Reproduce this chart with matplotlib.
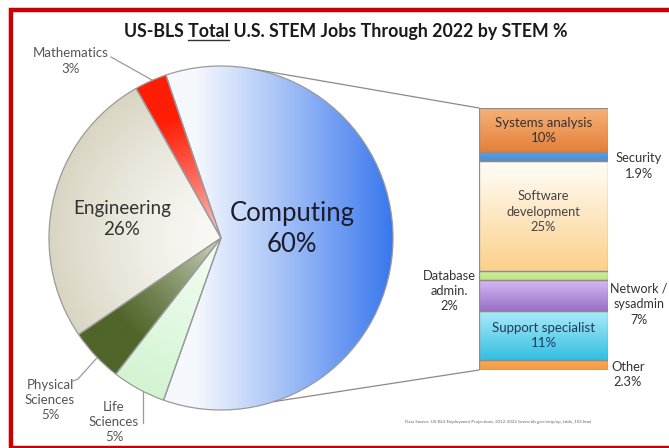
import numpy as np
import matplotlib
matplotlib.use("Agg")
import matplotlib.pyplot as plt
from matplotlib.patches import Rectangle, ConnectionPatch
from matplotlib.colors import to_rgb
from matplotlib.lines import Line2D

# ---------------- data ----------------
pie_labels = ["Computing", "Mathematics", "Engineering", "Physical\nSciences", "Life\nSciences"]
pie_values = [60, 3, 26, 5, 5]

bar_labels = ["Systems analysis", "Security", "Software\ndevelopment", "Database\nadmin.",
              "Network /\nsysadmin", "Support specialist", "Other"]
bar_values = [10, 1.9, 25, 2, 7, 11, 2.3]

title_pre = "US-BLS "
title_ul = "Total"
title_post = " U.S. STEM Jobs Through 2022 by STEM %"
source_text = "Data Source: US-BLS Employment Projections, 2012-2022 (www.bls.gov/emp/ep_table_102.htm)"

# ---------------- style ----------------
plt.rcParams['font.family'] = ['Lato', 'DejaVu Sans']
W, H = 669, 448
fig = plt.figure(figsize=(W / 100, H / 100), dpi=100)
fig.patch.set_facecolor("white")


def fx(x):
    return x / W


def fy(y):
    return 1 - y / H


def pct(v):
    return f"{v:g}%"


# ---------------- pie ----------------
cx, cy, R = 221, 238, 172
pax = fig.add_axes([fx(cx - R), fy(cy + R), 2 * R / W, 2 * R / H])
pax.set_xlim(-1, 1)
pax.set_ylim(-1, 1)
pax.axis("off")
startangle = -109.5
wedges, _ = pax.pie(pie_values, startangle=startangle, radius=1, counterclock=True,
                    wedgeprops=dict(facecolor="none", edgecolor="#9a9a9a", linewidth=0.9))
for w in wedges:
    w.set_zorder(3)

N = 500
xs = np.linspace(-1, 1, N)
X, Y = np.meshgrid(xs, xs)
Rr = np.sqrt(X ** 2 + Y ** 2)


def grad_img(c0, c1, t):
    c0 = np.array(to_rgb(c0))
    c1 = np.array(to_rgb(c1))
    t = np.clip(t, 0, 1)[..., None]
    return c0 + (c1 - c0) * t


pie_grads = [
    grad_img("#f5f8fd", "#3877ee", np.clip((X + 0.15) / 1.15, 0, 1) ** 1.05),
    grad_img("#f7d8d8", "#ff1e05", (Rr / 0.75) ** 0.8),
    grad_img("#faf9f5", "#d9d5c3", Rr ** 1.4),
    grad_img("#dfe3d3", "#50652a", (Rr / 0.75) ** 0.7),
    grad_img("#f5fdf5", "#d2f4d2", Rr ** 1.0),
]
for w, img in zip(wedges, pie_grads):
    im = pax.imshow(img, extent=(-1, 1, -1, 1), origin="lower", zorder=2, interpolation="bilinear")
    im.set_clip_path(w)
pax.set_xlim(-1, 1)
pax.set_ylim(-1, 1)
pax.set_aspect("auto")

# ---------------- stacked bar ----------------
bx0, bx1, by0, by1 = 479, 608, 108, 370
bax = fig.add_axes([fx(bx0), fy(by1), (bx1 - bx0) / W, (by1 - by0) / H])
total = sum(bar_values)
bottoms = np.concatenate([[0], np.cumsum(bar_values)[:-1]])
bar_cols = [("#f5b47c", "#e57f38"), ("#5f9ddb", "#4f8fd0"), ("#fffefb", "#fcd089"),
            ("#cdeea0", "#bfe47e"), ("#d6b8f2", "#9870c8"), ("#aaeaf8", "#33bfe2"),
            ("#f7aa58", "#f39a45")]
bars = bax.bar([0] * len(bar_values), bar_values, bottom=bottoms, width=1,
               color="none", edgecolor="#8c8c8c", linewidth=0.9, zorder=3)
for b, v, bt, (c0, c1) in zip(bars, bar_values, bottoms, bar_cols):
    t = np.linspace(0, 1, 100)[:, None] * np.ones((1, 2))
    img = grad_img(c0, c1, t)
    im = bax.imshow(img, extent=(-0.5, 0.5, bt + v, bt), origin="upper", aspect="auto",
                    zorder=2, interpolation="bilinear")
    im.set_clip_path(b)
bax.set_xlim(-0.5, 0.5)
bax.set_ylim(total, 0)
bax.axis("off")

# connectors
a_top, a_bot = np.deg2rad(79), np.deg2rad(-72)
for a, yb in [(a_top, 1), (a_bot, 0)]:
    con = ConnectionPatch(xyA=(np.cos(a), np.sin(a)), coordsA=pax.transData,
                          xyB=(0, yb), coordsB=bax.transAxes, color="#8a8a8a", lw=0.9)
    fig.add_artist(con)

# ---------------- labels ----------------
grey = "#555555"
dark = "#333333"
# pie labels
fig.text(fx(292), fy(229), f"{pie_labels[0]}\n{pct(pie_values[0])}", ha="center", va="center",
         fontsize=18.5, color="#1c1c2a", linespacing=1.3)
fig.text(fx(71), fy(61), f"{pie_labels[1]}\n{pct(pie_values[1])}", ha="center", va="center",
         fontsize=9.5, color=grey, linespacing=1.35)
fig.text(fx(122), fy(219), f"{pie_labels[2]}\n{pct(pie_values[2])}", ha="center", va="center",
         fontsize=13.5, color=dark, linespacing=1.3)
fig.text(fx(50), fy(400), f"{pie_labels[3]}\n{pct(pie_values[3])}", ha="center", va="center",
         fontsize=9.5, color=grey, linespacing=1.3)
fig.text(fx(114), fy(422), f"{pie_labels[4]}\n{pct(pie_values[4])}", ha="center", va="center",
         fontsize=9.5, color=grey, linespacing=1.3)

# leader lines
def edge_pt(deg):
    a = np.deg2rad(deg)
    return cx + R * np.cos(a), cy - R * np.sin(a)


lc = "#9a9a9a"
ex, ey = edge_pt(113.5)
fig.add_artist(Line2D([fx(111), fx(ex)], [fy(57), fy(ey)], color=lc, lw=0.9))
ex, ey = edge_pt(224)
fig.add_artist(Line2D([fx(73), fx(78), fx(ex)], [fy(381), fy(379), fy(ey)], color=lc, lw=0.9))
fig.add_artist(Line2D([fx(143), fx(143)], [fy(423), fy(392)], color=lc, lw=0.9))

# bar labels inside
mid = bottoms + np.array(bar_values) / 2
bax.text(0, mid[0], f"{bar_labels[0]}\n{pct(bar_values[0])}", ha="center", va="center",
         fontsize=9.5, color=dark, linespacing=1.3, zorder=5)
bax.text(0, mid[2] - 1, f"{bar_labels[2]}\n{pct(bar_values[2])}", ha="center", va="center",
         fontsize=9.3, color="#444444", linespacing=1.35, zorder=5)
bax.text(0, mid[5], f"{bar_labels[5]}\n{pct(bar_values[5])}", ha="center", va="center",
         fontsize=9.5, color="#1f3a5f", linespacing=1.25, zorder=5)
# outside labels
fig.text(fx(639), fy(166), f"{bar_labels[1]}\n{pct(bar_values[1])}", ha="center", va="center",
         fontsize=9.3, color=dark, linespacing=1.3)
fig.text(fx(449), fy(291), f"{bar_labels[3]}\n{pct(bar_values[3])}", ha="center", va="center",
         fontsize=9.3, color=dark, linespacing=1.3)
fig.text(fx(639), fy(304), f"{bar_labels[4]}\n{pct(bar_values[4])}", ha="center", va="center",
         fontsize=9.0, color=dark, linespacing=1.35)
fig.text(fx(628), fy(374), f"{bar_labels[6]}\n{pct(bar_values[6])}", ha="center", va="center",
         fontsize=9.3, color=dark, linespacing=1.3)

# source
fig.text(fx(405), fy(422), source_text, ha="left", va="center", fontsize=3.2, color="#666666")

# ---------------- title with underline ----------------
TFS = 12.8
title_full = title_pre + title_ul + title_post
tt = fig.text(fx(346), fy(31), title_full, ha="center", va="center", fontsize=TFS,
              fontweight="bold", color="#1a1a1a")
fig.canvas.draw()
r = fig.canvas.get_renderer()


def tw(s):
    t = fig.text(0, 0, s, fontsize=TFS, fontweight="bold")
    w = t.get_window_extent(r).width
    t.remove()
    return w


bb = tt.get_window_extent(r)
x_start = bb.x0 + tw(title_pre + title_ul) - tw(title_ul)
x_end = bb.x0 + tw(title_pre + title_ul)
fig.add_artist(Line2D([x_start / W, x_end / W], [fy(40), fy(40)], color="#333333", lw=1.0))

# ---------------- red frame ----------------
fig.add_artist(Rectangle((fx(10.5), fy(447.5)), (700 - 10.5) / W, (447.5 - 10) / H,
                         transform=fig.transFigure, fill=False, edgecolor="#cc0000", lw=3.2,
                         zorder=10))

fig.savefig("out.png", dpi=100)
